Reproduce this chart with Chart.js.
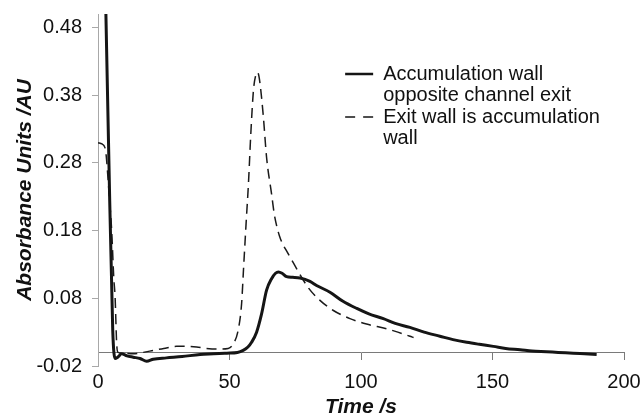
<!DOCTYPE html>
<html>
<head>
<meta charset="utf-8">
<script src="https://cdn.jsdelivr.net/npm/chart.js@4.4.1/dist/chart.umd.min.js"></script>
<style>
  html, body { margin: 0; padding: 0; background: #fff; }
  #chartBox { width: 643px; height: 416px; }
</style>
</head>
<body>
<div id="chartBox"><canvas id="absChart" width="643" height="416"></canvas></div>
<script>
// values: time in s, absorbance in AU
const solidTime = [2.9, 4.0, 5.6, 6.5, 7.5, 9, 11, 13.4, 16, 18.5, 21, 26, 32, 38.8, 44, 49, 53, 55.2, 57, 58.4,
  60.3, 62.2, 64.1, 66, 67.5, 68.6, 70, 71.7, 74, 76.8, 80.6, 83.1, 88.2, 93, 98.4, 103, 108.5, 113, 118.6, 124,
  130, 135, 140.2, 145, 150.3, 155, 160.5, 165, 170.6, 175, 180.7, 185, 189.6];
const solidAbs = [0.52, 0.31, 0.033, -0.009, -0.007, -0.002, -0.005, -0.007, -0.009, -0.013, -0.010, -0.008, -0.006, -0.003, -0.002, -0.001, 0.0, 0.003, 0.008, 0.015,
  0.030, 0.057, 0.092, 0.109, 0.117, 0.119, 0.117, 0.112, 0.111, 0.110, 0.105, 0.099, 0.089, 0.076, 0.065, 0.057, 0.050, 0.043, 0.037, 0.030,
  0.024, 0.019, 0.015, 0.012, 0.009, 0.006, 0.004, 0.002, 0.001, 0.0, -0.001, -0.002, -0.003];

const dashTime = [0, 1.5, 2.6, 3.0, 3.3, 4.3, 5.2, 6.0, 6.5, 7.1, 7.6, 9, 13.4, 17, 21, 25, 29.9, 33, 37.5, 41,
  45.1, 49.5, 51.5, 53.3, 54.6, 55.3, 56.3, 57.2, 58.1, 59.1, 60, 60.6, 61.2, 61.8, 62.9, 64.1, 66, 67, 68, 69, 70, 71.7,
  75.5, 79.9, 84.4, 89.5, 95.8, 102.1, 109.7, 114, 118.6, 120];
const dashAbs = [0.31, 0.308, 0.303, 0.295, 0.283, 0.23, 0.18, 0.11, 0.082, 0.013, 0.0, -0.001, -0.002, 0.0, 0.003, 0.006, 0.009, 0.009, 0.008, 0.006,
  0.005, 0.006, 0.013, 0.033, 0.072, 0.121, 0.19, 0.249, 0.323, 0.387, 0.41, 0.414, 0.408, 0.391, 0.347, 0.288, 0.234, 0.205, 0.186, 0.172, 0.162, 0.150,
  0.124, 0.096, 0.077, 0.062, 0.050, 0.042, 0.035, 0.030, 0.024, 0.022];

const xTicks = [0, 50, 100, 150, 200];
const yTicks = [-0.02, 0.08, 0.18, 0.28, 0.38, 0.48];

// legend text, split over lines like the original
const legendLines = [
  { text: "Accumulation wall", mark: "solid" },
  { text: "opposite channel exit", mark: null },
  { text: "Exit wall is accumulation", mark: "dash" },
  { text: "wall", mark: null }
];

Chart.defaults.font.family = "'Liberation Sans', Arial, sans-serif";
Chart.defaults.color = "#111";

const toPoints = (xs, ys) => xs.map((x, i) => ({ x: x, y: ys[i] }));

// put the legend inside the plot, upper right
const placeLegend = {
  id: "placeLegend",
  afterLayout(chart) {
    const lg = chart.legend;
    const a = chart.chartArea;
    lg.left = a.left + 0.467 * (a.right - a.left);
    lg.top = a.top + 0.138 * (a.bottom - a.top);
    lg.right = lg.left + 290;
    lg.bottom = lg.top + 130;
    lg.width = 290;
    lg.height = 130;
  }
};

new Chart(document.getElementById("absChart"), {
  type: "line",
  data: {
    datasets: [
      {
        label: "Accumulation wall opposite channel exit",
        data: toPoints(solidTime, solidAbs),
        borderColor: "#151515",
        borderWidth: 3,
        pointRadius: 0,
        cubicInterpolationMode: "monotone",
        fill: false
      },
      {
        label: "Exit wall is accumulation wall",
        data: toPoints(dashTime, dashAbs),
        borderColor: "#1a1a1a",
        borderWidth: 1.5,
        borderDash: [10, 6],
        pointRadius: 0,
        cubicInterpolationMode: "monotone",
        fill: false
      }
    ]
  },
  options: {
    responsive: false,
    animation: false,
    layout: { padding: { left: 0, right: 19, top: 14, bottom: 50 } },
    scales: {
      x: {
        type: "linear",
        min: 0,
        max: 200,
        position: { y: 0 },
        afterBuildTicks: s => { s.ticks = xTicks.map(v => ({ value: v })); },
        // tall line height pushes the labels down without adding side padding
        ticks: { font: { size: 20, lineHeight: 2.1 }, padding: 2, autoSkip: false, maxRotation: 0, color: "#111" },
        grid: { drawOnChartArea: false, drawTicks: true, tickLength: 7, color: "#7a7a7a" },
        border: { color: "#7a7a7a", width: 1 },
        title: {
          display: true,
          text: "Time /s",
          color: "#111",
          font: { size: 21, weight: "bold", style: "italic" },
          padding: { top: -11, bottom: 0 }
        }
      },
      y: {
        type: "linear",
        min: -0.02,
        max: 0.5,
        afterBuildTicks: s => { s.ticks = yTicks.map(v => ({ value: v })); },
        afterFit: s => { s.width = 98; },
        ticks: { font: { size: 20, lineHeight: 0.4 }, padding: 10, color: "#111", callback: v => v.toFixed(2) },
        grid: { drawOnChartArea: false, drawTicks: true, tickLength: 6, color: "#a8a8a8" },
        border: { color: "#a8a8a8", width: 1 },
        title: {
          display: true,
          text: "Absorbance Units /AU",
          color: "#111",
          font: { size: 21, weight: "bold", style: "italic" },
          padding: { top: 13, bottom: 0 }
        }
      }
    },
    plugins: {
      tooltip: { enabled: false },
      legend: {
        position: "chartArea",
        align: "start",
        labels: {
          usePointStyle: true,
          pointStyleWidth: 28,
          padding: 1.5,
          color: "#111",
          font: { size: 20 },
          generateLabels: () => legendLines.map(l => ({
            text: l.text,
            fontColor: "#111",
            fillStyle: "rgba(0,0,0,0)",
            strokeStyle: l.mark ? "#151515" : "rgba(0,0,0,0)",
            lineWidth: l.mark === "solid" ? 2.5 : (l.mark ? 1.5 : 0),
            lineDash: l.mark === "dash" ? [10, 8] : [],
            pointStyle: "line",
            hidden: false
          }))
        }
      }
    }
  },
  plugins: [placeLegend]
});
</script>
</body>
</html>
